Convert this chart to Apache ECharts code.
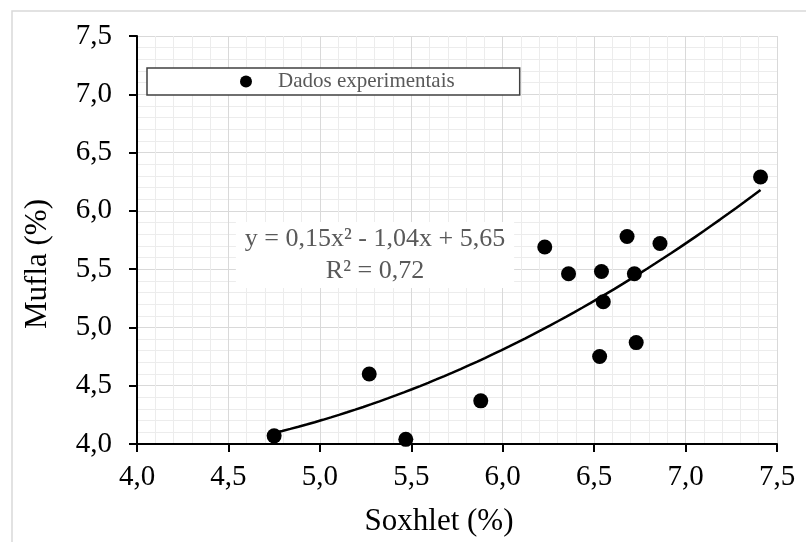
<!DOCTYPE html>
<html>
<head>
<meta charset="utf-8">
<script src="https://cdn.jsdelivr.net/npm/echarts@6/dist/echarts.min.js"></script>
<style>
  html, body { margin: 0; padding: 0; background: #fff; }
  #chart { width: 806px; height: 542px; }
</style>
</head>
<body>
<div id="chart"></div>
<script>
// dados
const soxhlet = [4.75, 5.27, 5.47, 5.88, 6.23, 6.36, 6.54, 6.68, 6.86, 6.72, 6.55, 6.73, 6.53, 7.41];
const mufla   = [4.07, 4.60, 4.04, 4.37, 5.69, 5.46, 5.48, 5.78, 5.72, 5.46, 5.22, 4.87, 4.75, 6.29];
// linha de tendência polinomial (ordem 2): a x² + b x + c, como no rótulo
const trendCoef = [0.15, -1.04, 5.65];
const trendLabel = ['y = 0,15x² - 1,04x + 5,65', 'R² = 0,72'];

const fmt = v => v.toFixed(1).replace('.', ',');
const font = '"Liberation Serif", "Times New Roman", serif';

const xMin = Math.min(...soxhlet), xMax = Math.max(...soxhlet);
const trend = [];
for (let i = 0; i <= 60; i++) {
    const x = xMin + (xMax - xMin) * i / 60;
    trend.push([x, trendCoef[0] * x * x + trendCoef[1] * x + trendCoef[2]]);
}

const axisCommon = {
    type: 'value',
    min: 4, max: 7.5, interval: 0.5,
    minorSplitLine: { show: true, lineStyle: { color: '#ececec', width: 1 } },
    minorTick: { show: false, splitNumber: 5 },
    splitLine: { lineStyle: { color: '#d9d9d9', width: 1 } },
    axisLine: { show: true, onZero: false, lineStyle: { color: '#000', width: 2 } },
    axisTick: { show: true, inside: false, length: 8, lineStyle: { color: '#000', width: 2 } },
    axisLabel: { formatter: fmt, color: '#000', fontFamily: font, fontSize: 29 },
    nameLocation: 'middle',
    nameTextStyle: { color: '#000', fontFamily: font, fontSize: 31 }
};

const chart = echarts.init(document.getElementById('chart'));
chart.setOption({
    animation: false,
    grid: { left: 137, top: 36, width: 640, height: 410 },
    xAxis: Object.assign({}, axisCommon, {
        name: 'Soxhlet (%)', nameGap: 62,
        axisLabel: Object.assign({}, axisCommon.axisLabel, { margin: 19 }),
        nameTextStyle: Object.assign({}, axisCommon.nameTextStyle, { padding: [0, 36, 0, 0] })
    }),
    yAxis: Object.assign({}, axisCommon, {
        name: 'Mufla (%)', nameGap: 84,
        axisLabel: Object.assign({}, axisCommon.axisLabel, { margin: 25 }),
        nameTextStyle: Object.assign({}, axisCommon.nameTextStyle, { padding: [0, 48, 0, 0] })
    }),
    legend: {
        data: ['Dados experimentais'],
        left: 147, top: 68,
        backgroundColor: '#fff',
        borderColor: '#404040', borderWidth: 1.5, borderRadius: 0,
        padding: [3, 65, 3, 93],
        icon: 'circle', itemWidth: 12, itemHeight: 12,
        itemStyle: { color: '#000', opacity: 1 },
        textStyle: { color: '#595959', fontFamily: font, fontSize: 21, padding: [0, 0, 0, 21] }
    },
    graphic: [
        { type: 'rect', shape: { x: 12, y: 11, width: 800, height: 540 },
          style: { fill: 'none', stroke: '#d9d9d9', lineWidth: 1.5 }, silent: true },
        { type: 'text', x: 375, y: 255, z: 100,
          style: { text: trendLabel.join('\n'), fill: '#595959', font: '26px ' + font,
                   align: 'center', verticalAlign: 'middle', lineHeight: 32,
                   backgroundColor: '#fff', padding: [1, 9] } }
    ],
    series: [
        {
            name: 'Dados experimentais', type: 'scatter',
            data: soxhlet.map((x, i) => [x, mufla[i]]),
            symbolSize: 15, itemStyle: { color: '#000', opacity: 1 }, z: 5
        },
        {
            name: 'Tendência', type: 'line', data: trend,
            showSymbol: false, smooth: false,
            lineStyle: { color: '#000', width: 2.5 }, z: 4
        }
    ]
});
</script>
</body>
</html>
